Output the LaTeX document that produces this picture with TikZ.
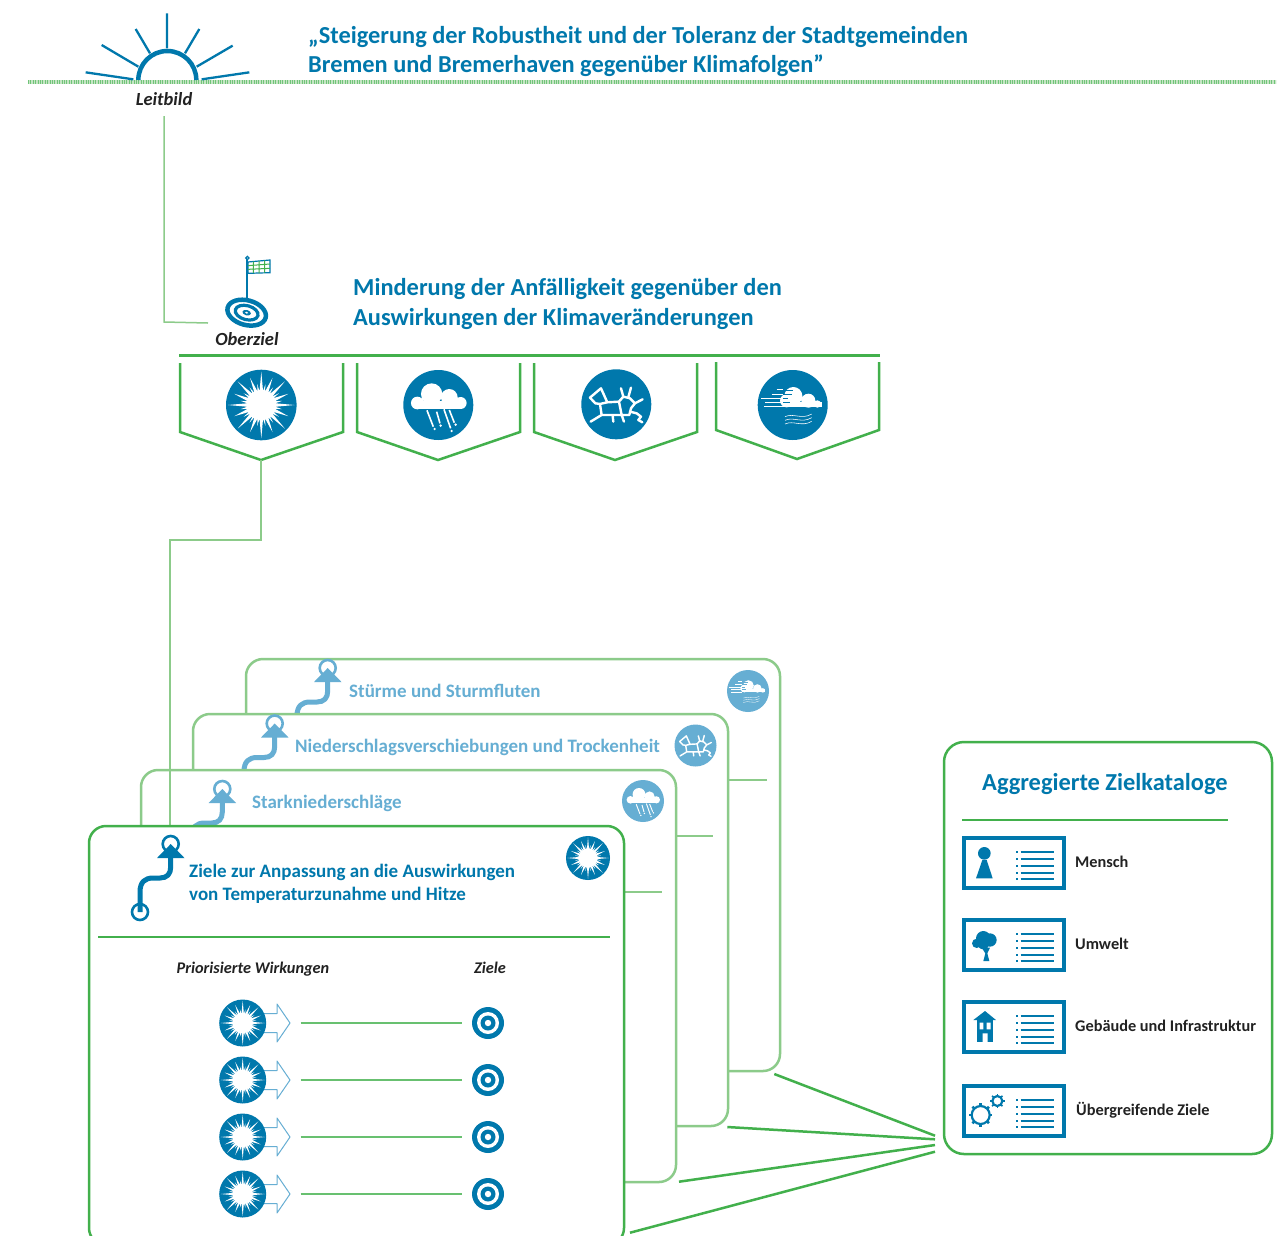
\documentclass[tikz,border=0pt]{standalone}
\usepackage{fontspec}
\usetikzlibrary{calc}
\setmainfont{Carlito}
\definecolor{mainblue}{HTML}{0078AC}
\definecolor{lightblue}{HTML}{66AED3}
\definecolor{maingreen}{HTML}{42B04C}
\definecolor{lightgreen}{HTML}{8CCB8A}
\definecolor{darktext}{HTML}{222222}
\newcommand{\sunicon}[4]{%
\begin{scope}[shift={(#1,#2)},scale=#3/35]
\fill[#4] (0,0) circle (35);
\fill[white] (0,0) circle (15);
\foreach \a in {0,45,...,315}{\fill[white] (\a:33)--(\a+8:13)--(\a-8:13)--cycle;}
\foreach \a in {22.5,67.5,...,337.5}{\fill[white] (\a:29)--(\a+8:13)--(\a-8:13)--cycle;}
\foreach \a in {11.25,33.75,...,348.75}{\fill[white] (\a:21)--(\a+5:13)--(\a-5:13)--cycle;}
\end{scope}}
\newcommand{\rainicon}[4]{%
\begin{scope}[shift={(#1,#2)},scale=#3/105,shift={(-805,-465)}]
\fill[#4] (805,465) circle (105);
\fill[white] (742,459) circle (19) (785,432) circle (32) (838,442) circle (25) (872,459) circle (18);
\fill[white] (742,452) rectangle (872,477);
\draw[white,line width={1.6*#3/35}] (771,481)--(790,530) (800,485)--(810,520) (822,478)--(842,535) (838,480)--(853,518);
\fill[white] (794,537) circle (4) (812,527) circle (4) (845,543) circle (4) (857,524) circle (4);
\end{scope}}
\newcommand{\crackicon}[4]{%
\begin{scope}[shift={(#1,#2)},scale=#3/105,shift={(-289,-163)}]
\fill[#4] (289,163) circle (105);
\draw[white,line width={2.4*#3/35},line join=round,line cap=round]
(210,143)--(243,115)--(262,157)--(240,162)--(226,160)--cycle
(262,157)--(297,155)--(305,195)--(245,195)--(240,162)
(297,155)--(310,140)--(330,145)--(345,160)--(333,175)--(328,195)--(305,195)
(310,140)--(303,115) (325,142)--(333,113) (345,160)--(368,148)
(330,185)--(350,190)--(363,200)--(355,210)--(367,217)
(245,195)--(212,215) (278,197)--(280,215) (305,195)--(312,215);
\end{scope}}
\newcommand{\windicon}[4]{%
\begin{scope}[shift={(#1,#2)},scale=#3/105,shift={(-818,-165)}]
\fill[#4] (818,165) circle (105);
\fill[white] (820,138) circle (27) (865,152) circle (21) (892,162) circle (11) (800,152) circle (20);
\fill[white] (790,155) rectangle (905,172);
\draw[#4,line width={.9*#3/35}] (790,121)--(818,121) (790,133)--(815,133) (790,145)--(805,145) (790,157)--(810,157);
\draw[white,line width={.9*#3/35}] (770,118)--(790,118) (755,133)--(790,133) (723,145)--(790,145) (735,157)--(790,157) (732,170)--(790,170);
\foreach \d in {0,11,22}{
\draw[white,line width={.55*#3/35}] (795,200+\d) .. controls (820,188+\d) and (845,210+\d) .. (875,192+\d);}
\end{scope}}
\newcommand{\pathicon}[3]{%
\begin{scope}[shift={(#1,#2)}]
\draw[#3,line width=5] (140,912)--(140,892) .. controls (140,882) and (145,878) .. (153,878)--(160,878) .. controls (167,878) and (170.7,874) .. (170.7,867)--(170.7,856);
\draw[#3,line width=2.6] (140,912) circle (8) (170.7,844) circle (8);
\fill[#3] (157,858)--(184.5,858)--(170.7,844)--cycle;
\end{scope}}
\newcommand{\listlines}[2]{%
\begin{scope}[shift={(#1,#2)}]
\draw[mainblue,line width=4] (2,2) rectangle (102,52);
\foreach \y in {16,23,29.7,36.7,43.3}{
\fill[mainblue] (53.5,\y-1) rectangle (56,\y+1);
\draw[mainblue,line width=2.2] (58.5,\y)--(91.5,\y);}
\end{scope}}
\newcommand{\wirkrow}[1]{%
\begin{scope}[shift={(0,#1)}]
\draw[lightblue,line width=1,fill=white,line join=round] (255,-9.5)--(277,-9.5)--(277,-19)--(290,0)--(277,19)--(277,9.5)--(255,9.5)--cycle;
\sunicon{242.7}{0}{23.5}{mainblue}
\draw[maingreen!80!white,line width=1.5] (300.5,0)--(462,0);
\fill[mainblue] (488,0) circle (16);
\fill[white] (488,0) circle (11);
\fill[mainblue] (488,0) circle (7.5);
\fill[white] (488,0) circle (3.2);
\end{scope}}
\tikzset{
  conn/.style={lightgreen,line width=1.5},
  fan/.style={maingreen,line width=2.5},
  shield/.style={maingreen,line width=2.5,line join=miter},
  titletext/.style={font=\fontsize{24.4}{29.5}\selectfont\bfseries,text=mainblue,anchor=west,align=left,inner sep=0},
  cardhead/.style={font=\fontsize{19}{23}\selectfont\bfseries,text=#1,anchor=west,align=left,inner sep=0},
  smalllabel/.style={font=\fontsize{#1}{19}\selectfont\bfseries\itshape,text=darktext,anchor=center,inner sep=0},
  catlabel/.style={font=\fontsize{16.3}{18}\selectfont\bfseries,text=darktext,anchor=west,inner sep=0},
  backcard/.style={draw=lightgreen,fill=white,line width=2.5,rounded corners=17},
}
\begin{document}
\begin{tikzpicture}[x=1pt,y=-1pt]
\useasboundingbox (0,0) rectangle (1287,1235);
\clip (0,0) rectangle (1287,1235);
\fill[white] (0,0) rectangle (1287,1235);
% ground line
\coordinate (gl) at (28,82); \coordinate (gr) at (1276,82);
\draw[lightgreen!50!white,line width=4] (gl)--(gr);
\draw[maingreen!75!white,line width=4,dash pattern=on 1 off 1.4] (gl)--(gr);
% sun
\begin{scope}[shift={(20,0)},scale=1/3]
\draw[mainblue,line width=4.5] (355,240) arc[start angle=180,end angle=360,radius=87];
\draw[mainblue,line width=2.3] (441,40)--(441,145) (347,87)--(390,160) (538,87)--(495,160) (245,135)--(355,200) (638,137)--(530,200) (197,217)--(340,238) (688,217)--(545,238);
\end{scope}
\node[smalllabel=18.5] (leitbild) at (164,99) {Leitbild};
\node[titletext] (title) at (308,51.5) {„Steigerung der Robustheit und der Toleranz der Stadtgemeinden\\Bremen und Bremerhaven gegenüber Klimafolgen”};
% Oberziel
\begin{scope}[shift={(170,250)},scale=1/3]
\draw[mainblue,line width=1.8] (232,25)--(232,150);
\draw[mainblue,line width=1.2,fill=white] (232,24) circle (5);
\draw[mainblue,line width=1.2,fill=white] (234,36)--(300,30)--(300,68)--(234,70)--cycle;
\draw[maingreen,line width=1] (250,35)--(250,69) (267,33)--(267,69) (284,31)--(284,68) (234,47)--(300,42) (234,58)--(300,55);
\begin{scope}[shift={(230,188)},rotate=-15]
\draw[mainblue,line width=4.5] (0,0) ellipse (59 and 37);
\draw[mainblue,line width=3.2] (0,0) ellipse (35 and 21);
\fill[mainblue] (0,0) ellipse (13 and 8);
\fill[white] (0,0) ellipse (5 and 3);
\end{scope}
\end{scope}
\node[smalllabel=18.5] (oberziel) at (247,339) {Oberziel};
\node[titletext] (heading) at (353,304) {Minderung der Anfälligkeit gegenüber den\\Auswirkungen der Klimaveränderungen};
\coordinate (lstart) at (164,116); \coordinate (lend) at (208,323);
\draw[conn] (lstart)--(164,322)--(lend);
% shields
\coordinate (barl) at (179,355); \coordinate (barr) at (880,355);
\draw[maingreen,line width=3] (barl)--(barr);
\coordinate (tip1) at (261,460);
\draw[shield] (180,363)--(180,432)--(tip1)--(343,432)--(343,363);
\draw[shield] (357,363)--(357,432)--(438,460)--(520,432)--(520,363);
\draw[shield] (534,363)--(534,432)--(615,460)--(697,432)--(697,363);
\draw[shield] (716,362)--(716,430)--(797,459)--(879,430)--(879,362);
\sunicon{261.3}{405}{35.3}{mainblue}
\rainicon{438.3}{405}{35}{mainblue}
\crackicon{616.3}{404.3}{35}{mainblue}
\windicon{792.7}{405}{35}{mainblue}
% cards back to front
\draw[backcard] (246,659) rectangle (780,1071);
\draw[lightgreen,line width=2] (700,780)--(767,780);
\pathicon{157}{-176}{lightblue}
\windicon{748}{691}{21}{lightblue}
\node[cardhead=lightblue] (c4) at (349,691) {Stürme und Sturmfluten};
\draw[backcard] (193,714) rectangle (728,1126);
\draw[lightgreen,line width=2] (650,836)--(713,836);
\pathicon{104}{-120.5}{lightblue}
\crackicon{695.5}{745.5}{21}{lightblue}
\node[cardhead=lightblue] (c3) at (295,747.5) {Niederschlagsverschiebungen und Trockenheit};
\draw[backcard] (141,770) rectangle (676,1182);
\draw[lightgreen,line width=2] (600,892)--(662,892);
\pathicon{51.6}{-55}{lightblue}
\rainicon{643}{801}{21}{lightblue}
\node[cardhead=lightblue] (c2) at (252,803.5) {Starkniederschläge};
\coordinate (cardentry) at (170,826);
\draw[conn] (tip1)--(261,540)--(170,540)--(cardentry);
\draw[maingreen,fill=white,line width=2.5,rounded corners=17] (89,826) rectangle (624,1245);
\pathicon{0}{0}{mainblue}
\sunicon{588}{858}{22}{mainblue}
\node[cardhead=mainblue] (c1) at (189,884) {Ziele zur Anpassung an die Auswirkungen\\von Temperaturzunahme und Hitze};
\draw[maingreen,line width=2] (98,937)--(610,937);
\node[smalllabel=16.3] (wirk) at (253,969) {Priorisierte Wirkungen};
\node[smalllabel=16.3] (ziele) at (490,968) {Ziele};
\wirkrow{1023}\wirkrow{1080}\wirkrow{1137}\wirkrow{1194}
% right panel
\draw[maingreen,line width=2.5,rounded corners=20] (944,742) rectangle (1272,1154);
\node[titletext] (agg) at (982,784) {Aggregierte Zielkataloge};
\draw[maingreen,line width=2] (962,820)--(1228,820);
\listlines{962}{836}
\listlines{962}{918}
\listlines{962}{1000}
\listlines{962}{1084}
\begin{scope}[shift={(950,825)},scale=1/3]
\fill[mainblue] (103,85) circle (19);
\fill[mainblue] (97,105)--(110,105)--(128,160)--(78,160)--cycle;
\fill[mainblue] (100,340) circle (22) (80,355) circle (14) (120,345) circle (20) (100,355) circle (18);
\fill[mainblue] (95,368)--(120,368)--(112,385)--(118,408)--(100,408)--(106,385)--cycle;
\end{scope}
\begin{scope}[shift={(950,990)},scale=1/3]
\fill[mainblue] (70,90)--(105,63)--(138,90)--cycle;
\fill[mainblue] (80,90) rectangle (130,157);
\fill[white] (89,98) rectangle (100,118) (110,98) rectangle (122,118) (98,130) rectangle (113,157);
\draw[mainblue,line width=2.2] (92,375) circle (27) (142,333) circle (15);
\foreach \a in {0,45,...,315}{
\draw[mainblue,line width=2.6] ($(92,375)+(\a:27)$)--($(92,375)+(\a:35)$);}
\foreach \a in {0,45,...,315}{
\draw[mainblue,line width=1.6] ($(142,333)+(\a:15)$)--($(142,333)+(\a:22)$);}
\end{scope}
\node[catlabel] (mensch) at (1075,862) {Mensch};
\node[catlabel] (umwelt) at (1075,944) {Umwelt};
\node[catlabel] (geb) at (1075,1026) {Gebäude und Infrastruktur};
\node[catlabel] (ueb) at (1076,1110) {Übergreifende Ziele};
% fan
\coordinate (f1a) at (774.3,1074); \coordinate (f1b) at (935,1135.7);
\coordinate (f2a) at (727.3,1127); \coordinate (f2b) at (935,1139.3);
\coordinate (f3a) at (679,1181.7); \coordinate (f3b) at (935,1145);
\coordinate (f4a) at (630,1232.7); \coordinate (f4b) at (935,1151.7);
\draw[fan] (f1a)--(f1b);
\draw[fan] (f2a)--(f2b);
\draw[fan] (f3a)--(f3b);
\draw[fan] (f4a)--(f4b);
\end{tikzpicture}
\end{document}
